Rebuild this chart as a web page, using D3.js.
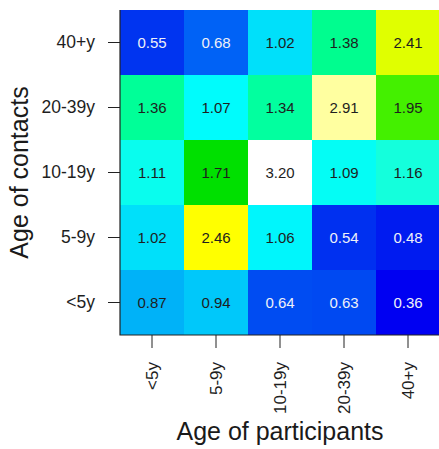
<!DOCTYPE html>
<html>
<head>
<meta charset="utf-8">
<script src="https://cdn.jsdelivr.net/npm/d3@7"></script>
<style>
  html, body { margin: 0; padding: 0; background: #fff; }
  svg { display: block; font-family: "Liberation Sans", Arial, sans-serif; }
</style>
</head>
<body>
<svg id="chart" width="439" height="449"></svg>
<script>
// Age groups of survey participants (columns) and of their contacts (rows)
const participants = ["<5y", "5-9y", "10-19y", "20-39y", "40+y"];
const contacts = ["<5y", "5-9y", "10-19y", "20-39y", "40+y"];

// Mean contacts per day, one array per contact age group, ordered by participant age
const contactsUnder5 = [0.87, 0.94, 0.64, 0.63, 0.36];
const contacts5to9   = [1.02, 2.46, 1.06, 0.54, 0.48];
const contacts10to19 = [1.11, 1.71, 3.20, 1.09, 1.16];
const contacts20to39 = [1.36, 1.07, 1.34, 2.91, 1.95];
const contacts40plus = [0.55, 0.68, 1.02, 1.38, 2.41];

const rows = [contactsUnder5, contacts5to9, contacts10to19, contacts20to39, contacts40plus];

const cells = [];
rows.forEach((vals, r) => vals.forEach((v, c) => cells.push({
  participant: participants[c], contact: contacts[r], value: v
})));

const svg = d3.select("#chart");
const plotLeft = 120, plotRight = 440, plotTop = 10, plotBottom = 335;

const x = d3.scaleBand().domain(participants).range([plotLeft, plotRight]);
const y = d3.scaleBand().domain(contacts).range([plotBottom, plotTop]);

// Blue -> cyan -> green -> yellow -> white colour ramp
const color = d3.scaleLinear()
  .domain([0.36, 0.50, 0.55, 0.64, 0.68, 0.87, 0.94, 1.02, 1.07, 1.16, 1.36, 1.71, 1.95, 2.41, 2.46, 2.91, 3.20])
  .range(["#0000f2", "#001ff0", "#0034f0", "#004cf2", "#0062f6", "#00b2f8", "#00c8fa", "#00e0fa",
          "#00fcfc", "#14ffdc", "#00ff98", "#00e000", "#44f000", "#e0ff00", "#ffff00", "#ffffa0", "#ffffff"])
  .clamp(true);

svg.append("g").selectAll("rect")
  .data(cells)
  .join("rect")
  .attr("x", d => x(d.participant))
  .attr("y", d => y(d.contact))
  .attr("width", x.bandwidth())
  .attr("height", y.bandwidth())
  .attr("fill", d => color(d.value))
  .attr("shape-rendering", "crispEdges");

svg.append("g").selectAll("text")
  .data(cells)
  .join("text")
  .attr("x", d => x(d.participant) + x.bandwidth() / 2)
  .attr("y", d => y(d.contact) + y.bandwidth() / 2)
  .attr("dy", "0.36em")
  .attr("text-anchor", "middle")
  .attr("font-size", 15)
  .attr("fill", d => d.value < 0.75 ? "#eef0f8" : "#1e1e1e")
  .text(d => d.value.toFixed(2));

// Left axis (contact age)
const yAxis = svg.append("g")
  .attr("transform", `translate(${plotLeft},0)`)
  .call(d3.axisLeft(y).tickSize(12).tickSizeOuter(0).tickPadding(13));
yAxis.select(".domain").remove();
yAxis.selectAll("line").attr("stroke", "#222");
yAxis.selectAll("text")
  .attr("font-size", 17.5)
  .attr("font-family", "Liberation Sans, Arial, sans-serif")
  .attr("fill", "#1e1e1e");

// Bottom axis (participant age), labels turned vertical
const xAxis = svg.append("g")
  .attr("transform", `translate(0,${plotBottom})`)
  .call(d3.axisBottom(x).tickSize(13).tickSizeOuter(0));
xAxis.select(".domain").remove();
xAxis.selectAll("line").attr("stroke", "#222");
xAxis.selectAll("text")
  .attr("font-size", 17)
  .attr("font-family", "Liberation Sans, Arial, sans-serif")
  .attr("fill", "#1e1e1e")
  .attr("text-anchor", "end")
  .attr("dy", null)
  .attr("y", 0)
  .attr("transform", "translate(6,27) rotate(-90)");

// L-shaped frame along the two axes
svg.append("path")
  .attr("d", `M${plotLeft},${plotTop}V${plotBottom}H${plotRight}`)
  .attr("fill", "none")
  .attr("stroke", "#222")
  .attr("stroke-width", 1.2);

// Axis titles
svg.append("text")
  .attr("x", (plotLeft + plotRight) / 2)
  .attr("y", 440)
  .attr("text-anchor", "middle")
  .attr("font-size", 25)
  .attr("fill", "#1a1a1a")
  .text("Age of participants");

svg.append("text")
  .attr("transform", `translate(28,${(plotTop + plotBottom) / 2}) rotate(-90)`)
  .attr("text-anchor", "middle")
  .attr("font-size", 25)
  .attr("fill", "#1a1a1a")
  .text("Age of contacts");
</script>
</body>
</html>
